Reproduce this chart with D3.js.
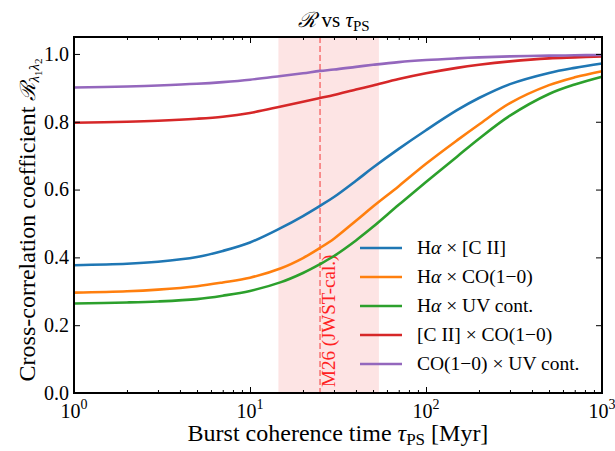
<!DOCTYPE html>
<html lang="en">
<head>
<meta charset="UTF-8" />
<title>R vs tau_PS</title>
<script src="https://d3js.org/d3.v7.min.js"></script>
<style>
  body { margin: 0; background: #fff; }
  svg { font-family: "Liberation Serif", "DejaVu Serif", serif; }
</style>
</head>
<body>
<script>
// burst coherence time samples (Myr)
var tau = [1, 2, 3, 5, 7, 10, 15, 20, 25, 30, 40, 50, 70, 100, 150, 200, 300, 500, 700, 1000];

var haCII  = [0.377, 0.381, 0.387, 0.401, 0.419, 0.444, 0.487, 0.522, 0.552, 0.578, 0.626, 0.665, 0.720, 0.775, 0.834, 0.870, 0.911, 0.944, 0.959, 0.972];
var haCO   = [0.296, 0.300, 0.305, 0.315, 0.326, 0.340, 0.368, 0.398, 0.428, 0.455, 0.508, 0.550, 0.610, 0.676, 0.745, 0.792, 0.855, 0.908, 0.931, 0.949];
var haUV   = [0.264, 0.267, 0.270, 0.277, 0.287, 0.301, 0.327, 0.354, 0.380, 0.404, 0.450, 0.490, 0.555, 0.622, 0.697, 0.750, 0.818, 0.882, 0.910, 0.933];
var ciiCO  = [0.797, 0.800, 0.803, 0.809, 0.815, 0.826, 0.845, 0.859, 0.870, 0.879, 0.895, 0.907, 0.926, 0.943, 0.959, 0.968, 0.978, 0.987, 0.990, 0.993];
var coUV   = [0.901, 0.904, 0.907, 0.912, 0.917, 0.924, 0.935, 0.943, 0.950, 0.954, 0.962, 0.968, 0.976, 0.982, 0.987, 0.990, 0.993, 0.995, 0.996, 0.997];

var series = [haCII, haCO, haUV, ciiCO, coUV];
var colors = ["#1f77b4", "#ff7f0e", "#2ca02c", "#d62728", "#9467bd"];
// legend labels: [text, italic?] pieces
var labels = [
    [["H"], ["α", 1], [" × [C II]"]],
    [["H"], ["α", 1], [" × CO(1−0)"]],
    [["H"], ["α", 1], [" × UV cont."]],
    [["[C II] × CO(1−0)"]],
    [["CO(1−0) × UV cont."]]
];

var yTicks = [0.0, 0.2, 0.4, 0.6, 0.8, 1.0];
var xTicks = [1, 10, 100, 1000];
var xTickExp = ["0", "1", "2", "3"];

// JWST-calibrated value and range
var m26 = 25;
var m26Range = [14.5, 54];

var w = 615, h = 451;
var pL = 74, pR = 602, pT = 37, pB = 393;

var svg = d3.select("body").append("svg")
    .attr("width", w)
    .attr("height", h);

var x = d3.scaleLog().domain([1, 1000]).range([pL, pR]);
var y = d3.scaleLinear().domain([0, 1.05]).range([pB, pT]);

// shaded band + dashed line
svg.append("rect")
    .attr("x", x(m26Range[0]))
    .attr("y", pT)
    .attr("width", x(m26Range[1]) - x(m26Range[0]))
    .attr("height", pB - pT)
    .attr("fill", "#fde4e4");

svg.append("line")
    .attr("x1", x(m26)).attr("x2", x(m26))
    .attr("y1", pT).attr("y2", pB)
    .attr("stroke", "#f55f5f")
    .attr("stroke-width", 1.3)
    .attr("stroke-dasharray", "6,3");

svg.append("text")
    .attr("transform", "translate(" + (x(m26) + 15) + "," + (pB - 6) + ") rotate(-90)")
    .attr("fill", "#f22")
    .attr("font-size", 19)
    .text("M26 (JWST-cal.)");

// curves
var line = d3.line()
    .x(function(d, i){ return x(tau[i]); })
    .y(function(d){ return y(d); })
    .curve(d3.curveCatmullRom.alpha(0.5));

svg.selectAll(".curve")
    .data(series)
    .enter()
    .append("path")
    .attr("class", "curve")
    .attr("d", line)
    .attr("fill", "none")
    .attr("stroke", function(d, i){ return colors[i]; })
    .attr("stroke-width", 2.6);

// axes, ticks inward
var minor = [];
for (var e = 0; e < 3; e++) {
    for (var m = 2; m < 10; m++) minor.push(m * Math.pow(10, e));
}

function styleAxis(g) {
    g.select(".domain").remove();
    g.selectAll("line").attr("stroke", "#000").attr("stroke-width", 1);
}

svg.append("g").attr("transform", "translate(0," + pB + ")")
    .call(d3.axisBottom(x).tickValues(xTicks).tickSize(-6).tickFormat(""))
    .call(styleAxis);
svg.append("g").attr("transform", "translate(0," + pB + ")")
    .call(d3.axisBottom(x).tickValues(minor).tickSize(-3).tickFormat(""))
    .call(styleAxis);
svg.append("g").attr("transform", "translate(0," + pT + ")")
    .call(d3.axisTop(x).tickValues(xTicks).tickSize(-6).tickFormat(""))
    .call(styleAxis);
svg.append("g").attr("transform", "translate(0," + pT + ")")
    .call(d3.axisTop(x).tickValues(minor).tickSize(-3).tickFormat(""))
    .call(styleAxis);

var yAxis = svg.append("g").attr("transform", "translate(" + pL + ",0)")
    .call(d3.axisLeft(y).tickValues(yTicks).tickSize(-6).tickPadding(5).tickFormat(d3.format(".1f")))
    .call(styleAxis);
yAxis.selectAll("text").attr("font-size", 20).attr("font-family", "Liberation Serif").attr("fill", "#000");

svg.append("g").attr("transform", "translate(" + pR + ",0)")
    .call(d3.axisRight(y).tickValues(yTicks).tickSize(-6).tickFormat(""))
    .call(styleAxis);

// x tick labels with superscripts (the last one runs off the edge, as in the original)
xTicks.forEach(function(t, i){
    var tx = svg.append("text")
        .attr("x", x(t))
        .attr("y", 418)
        .attr("text-anchor", "middle")
        .attr("font-size", 20);
    tx.append("tspan").text("10");
    tx.append("tspan").attr("font-size", 14).attr("dy", -9).text(xTickExp[i]);
});

// frame
svg.append("rect")
    .attr("x", pL).attr("y", pT)
    .attr("width", pR - pL).attr("height", pB - pT)
    .attr("fill", "none")
    .attr("stroke", "#000")
    .attr("stroke-width", 2);

// title
var title = svg.append("text")
    .attr("x", 334)
    .attr("y", 27)
    .attr("text-anchor", "middle")
    .attr("font-size", 21);
title.append("tspan").attr("font-family", "DejaVu Serif").attr("font-style", "italic").text("ℛ");
title.append("tspan").text(" vs ");
title.append("tspan").attr("font-style", "italic").text("τ");
title.append("tspan").attr("font-size", 15).attr("dy", 4).text("PS");

// x label
var xl = svg.append("text")
    .attr("x", 338)
    .attr("y", 441)
    .attr("text-anchor", "middle")
    .attr("font-size", 24);
xl.append("tspan").text("Burst coherence time ");
xl.append("tspan").attr("font-style", "italic").text("τ");
xl.append("tspan").attr("font-size", 17).attr("dy", 4).text("PS");
xl.append("tspan").attr("dy", -4).text(" [Myr]");

// y label
var yl = svg.append("text")
    .attr("transform", "translate(35,220) rotate(-90)")
    .attr("text-anchor", "middle")
    .attr("font-size", 24);
yl.append("tspan").text("Cross-correlation coefficient ");
yl.append("tspan").attr("font-family", "DejaVu Serif").attr("font-style", "italic").attr("font-size", 21).text("ℛ");
yl.append("tspan").attr("font-style", "italic").attr("font-size", 15).attr("dy", 4).text("λ");
yl.append("tspan").attr("font-size", 11).attr("dy", 3).text("1");
yl.append("tspan").attr("font-style", "italic").attr("font-size", 15).attr("dy", -3).text("λ");
yl.append("tspan").attr("font-size", 11).attr("dy", 3).text("2");

// legend
var lg = svg.append("g").selectAll("g")
    .data(labels)
    .enter()
    .append("g")
    .attr("transform", function(d, i){ return "translate(360," + (248 + i * 29) + ")"; });

lg.append("line")
    .attr("x1", 0).attr("x2", 42)
    .attr("stroke", function(d, i){ return colors[i]; })
    .attr("stroke-width", 2.6);

lg.append("text")
    .attr("x", 57)
    .attr("y", 6)
    .attr("font-size", 19.5)
    .each(function(d){
        var t = d3.select(this);
        d.forEach(function(p){
            t.append("tspan").attr("font-style", p[1] ? "italic" : null).text(p[0]);
        });
    });
</script>
</body>
</html>
